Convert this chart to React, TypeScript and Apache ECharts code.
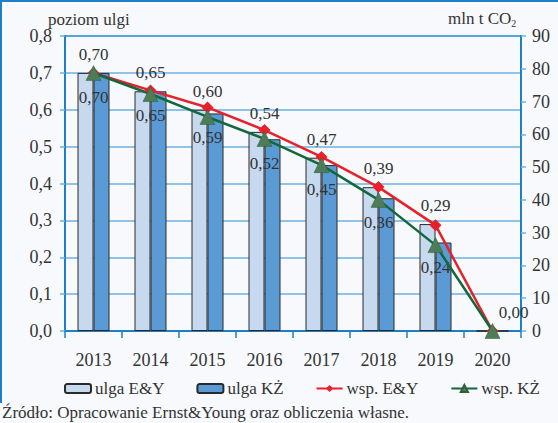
import React, { useEffect, useRef } from "react";
import * as echarts from "echarts";

const years = ["2013", "2014", "2015", "2016", "2017", "2018", "2019", "2020"];
const ulgaEY = [0.7, 0.65, 0.6, 0.54, 0.47, 0.39, 0.29, 0.0];
const ulgaKZ = [0.7, 0.65, 0.59, 0.52, 0.45, 0.36, 0.24, 0.0];
const wspEY = [78.7, 73.4, 68.2, 61.3, 53.1, 43.9, 32.3, 0];
const wspKZ = [78.7, 72.3, 65.3, 58.6, 50.6, 40.0, 26.2, 0];
const leftTicks = { min: 0, max: 0.8, interval: 0.1 };
const rightTicks = { min: 0, max: 90, interval: 10 };

const FONT = "'Liberation Serif', 'Times New Roman', serif";
const TXT = "#333333";
const AXIS = "#1f7fc4";
const GRID = "#6cb0e0";

const fmt2 = (v: number) => v.toFixed(2).replace(".", ",");

export default function App() {
  const ref = useRef<HTMLDivElement>(null);
  useEffect(() => {
    document.body.style.margin = "0";
    const chart = echarts.init(ref.current!, null, { renderer: "svg" });
    const last = years.length - 1;
    chart.setOption({
      animation: false,
      backgroundColor: "#f7f9fc",
      textStyle: { fontFamily: FONT, color: TXT },
      grid: {
        left: 65,
        right: 37,
        top: 36,
        bottom: 92,
        outerBoundsMode: "none",
        containLabel: false,
        show: true,
        borderColor: AXIS,
        borderWidth: 2,
      },
      graphic: [
        {
          type: "line",
          shape: { x1: 1, y1: 0, x2: 1, y2: 403 },
          style: { stroke: AXIS, lineWidth: 2 },
        },
        {
          type: "line",
          shape: { x1: 0, y1: 1, x2: 558, y2: 1 },
          style: { stroke: AXIS, lineWidth: 2 },
        },
        {
          type: "text",
          left: 48,
          top: 11,
          style: { text: "poziom ulgi", fontFamily: FONT, fontSize: 17, fill: TXT },
        },
        {
          type: "text",
          left: 448,
          top: 10,
          style: {
            text: "{a|mln t CO}{b|2}",
            rich: {
              a: { fontFamily: FONT, fontSize: 17, fill: TXT },
              b: { fontFamily: FONT, fontSize: 10, fill: TXT, padding: [10, 0, 0, 0] },
            },
          },
        },
        {
          type: "text",
          left: 2,
          top: 404,
          style: {
            text: "Źródło: Opracowanie Ernst&Young oraz obliczenia własne.",
            fontFamily: FONT,
            fontSize: 17,
            fill: TXT,
          },
        },
      ],
      legend: {
        top: 375,
        left: 59,
        itemGap: 32,
        itemWidth: 26,
        itemHeight: 9,
        textStyle: { fontFamily: FONT, fontSize: 17, color: TXT, padding: [0, 0, 0, -1] },
        data: ["ulga E&Y", "ulga KŻ", "wsp. E&Y", "wsp. KŻ"],
      },
      xAxis: {
        type: "category",
        data: years,
        axisLine: { show: true, lineStyle: { color: AXIS, width: 2 } },
        axisTick: { show: true, length: 7, lineStyle: { color: AXIS, width: 1.5 } },
        axisLabel: { fontFamily: FONT, fontSize: 18, color: TXT, margin: 20 },
      },
      yAxis: [
        {
          type: "value",
          ...leftTicks,
          axisLine: { show: true, lineStyle: { color: AXIS, width: 2 } },
          axisTick: { show: true, length: 5, lineStyle: { color: GRID, width: 1.5 } },
          splitLine: { show: true, lineStyle: { color: GRID, width: 1.5 } },
          axisLabel: {
            fontFamily: FONT,
            fontSize: 18,
            color: TXT,
            margin: 13,
            formatter: (v: number) => v.toFixed(1).replace(".", ","),
          },
        },
        {
          type: "value",
          ...rightTicks,
          position: "right",
          axisLine: { show: true, lineStyle: { color: AXIS, width: 2 } },
          axisTick: { show: true, length: 5, lineStyle: { color: GRID, width: 1.5 } },
          splitLine: { show: false },
          axisLabel: { fontFamily: FONT, fontSize: 18, color: TXT, margin: 11 },
        },
      ],
      series: [
        {
          name: "ulga E&Y",
          type: "bar",
          barWidth: 16,
          barGap: "0%",
          itemStyle: { color: "#c6d9ef", borderColor: "#2a2a2a", borderWidth: 1 },
          label: {
            show: true,
            position: "top",
            distance: 5,
            offset: [8, -5],
            fontFamily: FONT,
            fontSize: 17,
            color: TXT,
            formatter: (p: any) => fmt2(p.value),
          },
          data: ulgaEY.map((v, i) =>
            i === last ? { value: v, label: { offset: [29, -5] } } : v
          ),
        },
        {
          name: "ulga KŻ",
          type: "bar",
          barWidth: 16,
          barGap: "0%",
          itemStyle: { color: "#5b9bd5", borderColor: "#2a2a2a", borderWidth: 1 },
          label: {
            show: true,
            position: "insideTop",
            distance: 5,
            offset: [-8, 11],
            fontFamily: FONT,
            fontSize: 17,
            color: TXT,
            formatter: (p: any) => fmt2(p.value),
          },
          data: ulgaKZ.map((v) => (v === 0 ? { value: v, label: { show: false } } : v)),
        },
        {
          name: "wsp. E&Y",
          type: "line",
          yAxisIndex: 1,
          symbol: "diamond",
          symbolSize: 12,
          lineStyle: { color: "#e8202a", width: 2.5 },
          itemStyle: { color: "#e8202a" },
          data: wspEY,
        },
        {
          name: "wsp. KŻ",
          type: "line",
          yAxisIndex: 1,
          symbol: "triangle",
          symbolSize: 15,
          lineStyle: { color: "#11683c", width: 2.5 },
          itemStyle: { color: "#4c7d58", borderColor: "#2f5e3a", borderWidth: 0.5 },
          data: wspKZ,
        },
      ],
    });
    return () => chart.dispose();
  }, []);
  return <div ref={ref} style={{ width: 558, height: 423 }} />;
}
